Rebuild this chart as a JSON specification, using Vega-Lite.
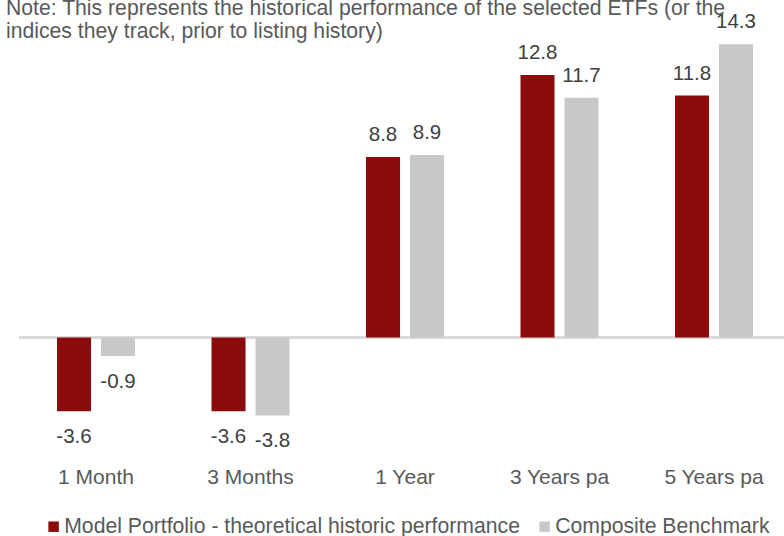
{
  "$schema": "https://vega.github.io/schema/vega-lite/v6.json",
  "autosize": "none",
  "width": 765,
  "height": 410,
  "padding": {"left": 19, "top": 30, "right": 0, "bottom": 96},
  "title": {
    "text": ["Note: This represents the historical performance of the selected ETFs (or the", "indices they track, prior to listing history)"],
    "anchor": "start",
    "frame": "group",
    "orient": "top",
    "dx": -13,
    "offset": -30,
    "font": "Liberation Sans",
    "fontSize": 21.2,
    "fontWeight": "normal",
    "color": "#595959",
    "lineHeight": 23
  },
  "config": {"view": {"stroke": null}, "font": "Liberation Sans"},
  "data": {
    "values": [
      {"period": "1 Month", "series": "Model Portfolio - theoretical historic performance", "value": -3.6},
      {"period": "1 Month", "series": "Composite Benchmark", "value": -0.9},
      {"period": "3 Months", "series": "Model Portfolio - theoretical historic performance", "value": -3.6},
      {"period": "3 Months", "series": "Composite Benchmark", "value": -3.8},
      {"period": "1 Year", "series": "Model Portfolio - theoretical historic performance", "value": 8.8},
      {"period": "1 Year", "series": "Composite Benchmark", "value": 8.9},
      {"period": "3 Years pa", "series": "Model Portfolio - theoretical historic performance", "value": 12.8},
      {"period": "3 Years pa", "series": "Composite Benchmark", "value": 11.7},
      {"period": "5 Years pa", "series": "Model Portfolio - theoretical historic performance", "value": 11.8},
      {"period": "5 Years pa", "series": "Composite Benchmark", "value": 14.3}
    ]
  },
  "layer": [
    {
      "mark": {"type": "rule", "color": "#D9D9D9", "strokeWidth": 2},
      "encoding": {"y": {"datum": 0, "type": "quantitative", "scale": {"domain": [-5, 15]}, "axis": null}}
    },
    {
      "mark": {"type": "bar"},
      "encoding": {
        "x": {
          "field": "period", "type": "nominal",
          "sort": ["1 Month", "3 Months", "1 Year", "3 Years pa", "5 Years pa"],
          "scale": {"paddingInner": 0.495, "paddingOuter": 0.2233, "align": 0.551},
          "axis": {"title": null, "domain": false, "ticks": false, "labelAngle": 0, "labelFontSize": 21, "labelColor": "#595959", "labelPadding": 26, "labelFont": "Liberation Sans"}
        },
        "xOffset": {
          "field": "series", "type": "nominal",
          "sort": ["Model Portfolio - theoretical historic performance", "Composite Benchmark"],
          "scale": {"paddingInner": 0.227, "paddingOuter": 0}
        },
        "y": {"field": "value", "type": "quantitative", "scale": {"domain": [-5, 15], "nice": false, "zero": false}, "axis": null},
        "color": {
          "field": "series", "type": "nominal",
          "sort": ["Model Portfolio - theoretical historic performance", "Composite Benchmark"],
          "scale": {"domain": ["Model Portfolio - theoretical historic performance", "Composite Benchmark"], "range": ["#8B0C0C", "#C8C8C8"]},
          "legend": {
            "title": null, "orient": "none", "legendX": 24, "legendY": 486,
            "direction": "horizontal", "symbolType": "square", "symbolSize": 110,
            "symbolStrokeWidth": 0, "labelFontSize": 21.2, "labelColor": "#595959",
            "labelFont": "Liberation Sans", "columnPadding": 14, "labelOffset": 0, "labelLimit": 0
          }
        }
      }
    },
    {
      "transform": [{"filter": "datum.value > 0"}],
      "mark": {"type": "text", "dy": -22, "fontSize": 20.5, "color": "#404040", "font": "Liberation Sans"},
      "encoding": {
        "x": {"field": "period", "type": "nominal", "sort": ["1 Month", "3 Months", "1 Year", "3 Years pa", "5 Years pa"]},
        "xOffset": {"field": "series", "type": "nominal", "sort": ["Model Portfolio - theoretical historic performance", "Composite Benchmark"]},
        "y": {"field": "value", "type": "quantitative"},
        "text": {"field": "value", "type": "nominal"}
      }
    },
    {
      "transform": [{"filter": "datum.value < 0"}],
      "mark": {"type": "text", "dy": 26, "fontSize": 20.5, "color": "#404040", "font": "Liberation Sans"},
      "encoding": {
        "x": {"field": "period", "type": "nominal", "sort": ["1 Month", "3 Months", "1 Year", "3 Years pa", "5 Years pa"]},
        "xOffset": {"field": "series", "type": "nominal", "sort": ["Model Portfolio - theoretical historic performance", "Composite Benchmark"]},
        "y": {"field": "value", "type": "quantitative"},
        "text": {"field": "value", "type": "nominal"}
      }
    }
  ]
}
